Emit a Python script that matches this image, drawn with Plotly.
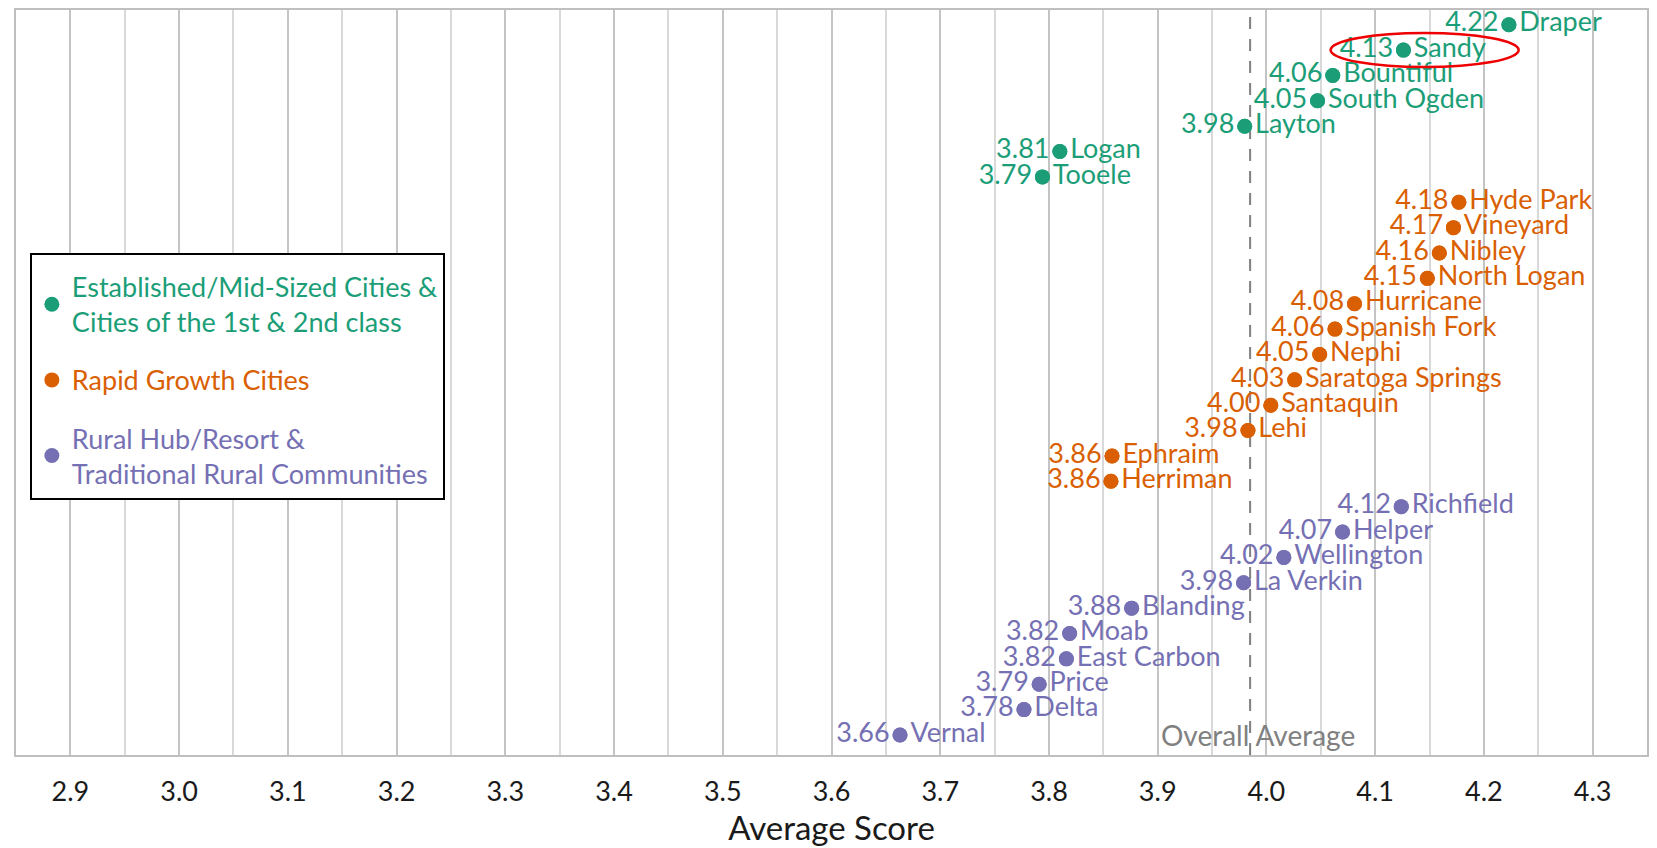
import plotly.graph_objects as go

# ---------------- data ----------------
group_names = [
    "Established/Mid-Sized Cities &|Cities of the 1st & 2nd class",
    "Rapid Growth Cities",
    "Rural Hub/Resort &|Traditional Rural Communities",
]
group_colors = ["#1b9e77", "#d95f02", "#7570b3"]

est_cities = ["Draper", "Sandy", "Bountiful", "South Ogden", "Layton", "Logan", "Tooele"]
est_scores = [4.223, 4.126, 4.061, 4.047, 3.980, 3.810, 3.794]

rapid_cities = ["Hyde Park", "Vineyard", "Nibley", "North Logan", "Hurricane", "Spanish Fork",
                "Nephi", "Saratoga Springs", "Santaquin", "Lehi", "Ephraim", "Herriman"]
rapid_scores = [4.177, 4.172, 4.159, 4.148, 4.081, 4.063, 4.049, 4.026, 4.004, 3.983, 3.858, 3.857]

rural_cities = ["Richfield", "Helper", "Wellington", "La Verkin", "Blanding", "Moab",
                "East Carbon", "Price", "Delta", "Vernal"]
rural_scores = [4.124, 4.070, 4.016, 3.979, 3.876, 3.819, 3.816, 3.791, 3.777, 3.663]

overall_average = 3.985
highlight_city = "Sandy"

x_ticks = [2.9, 3.0, 3.1, 3.2, 3.3, 3.4, 3.5, 3.6, 3.7, 3.8, 3.9, 4.0, 4.1, 4.2, 4.3]
x_tick_labels = ["2.9", "3.0", "3.1", "3.2", "3.3", "3.4", "3.5", "3.6", "3.7", "3.8",
                 "3.9", "4.0", "4.1", "4.2", "4.3"]

# ---------------- figure ----------------
FONT = "Lato"
FS = 27
all_cities = est_cities + rapid_cities + rural_cities
all_scores = est_scores + rapid_scores + rural_scores

fig = go.Figure()
series = [(est_cities, est_scores), (rapid_cities, rapid_scores), (rural_cities, rural_scores)]
for gi, ((cities, scores), gname, col) in enumerate(zip(series, group_names, group_colors)):
    marker = dict(size=15, color=col)
    fig.add_trace(go.Scatter(
        x=scores, y=cities, mode="markers+text", text=cities, textposition="middle right",
        marker=marker, textfont=dict(family=FONT, size=FS, color=col),
        showlegend=False, legendgroup=f"g{gi}", hoverinfo="skip", cliponaxis=False))
    fig.add_trace(go.Scatter(
        x=scores, y=cities, mode="markers+text", texttemplate="%{x:.2f}", textposition="middle left",
        marker=marker, textfont=dict(family=FONT, size=FS, color=col),
        showlegend=False, legendgroup=f"g{gi}", cliponaxis=False))
    label = "<br>".join(f"<span style='color:{col}'>{ln}</span>" for ln in gname.split("|"))
    fig.add_trace(go.Scatter(
        x=[None], y=[None], mode="markers", marker=marker, name=label,
        legendgroup=f"g{gi}", showlegend=True))

# overall average dashed line
fig.add_shape(type="line", xref="x", yref="paper", x0=overall_average, x1=overall_average,
              y0=0, y1=1, line=dict(color="#808080", width=2, dash="12px,10px"), layer="between")
fig.add_annotation(x=overall_average, y=all_cities[-1], xref="x", yref="y", text="Overall Average",
                   showarrow=False, xanchor="center", yanchor="middle", xshift=8,
                   font=dict(family=FONT, size=28, color="#808080"))

# highlight ellipse around Sandy
hv = all_scores[all_cities.index(highlight_city)]
hy = all_cities.index(highlight_city)
fig.add_shape(type="circle", xref="x", yref="y", x0=hv - 0.067, x1=hv + 0.106,
              y0=hy - 0.67, y1=hy + 0.67, line=dict(color="#ee0000", width=2.5), layer="above")

n = len(all_cities)
fig.update_layout(
    width=1657, height=848,
    margin=dict(l=16, r=8, t=8, b=93, pad=0),
    paper_bgcolor="white", plot_bgcolor="white",
    font=dict(family=FONT, size=FS, color="#1a1a1a"),
    showlegend=True,
    legend=dict(x=0.0085, y=0.674, xanchor="left", yanchor="top",
                bordercolor="black", borderwidth=2, bgcolor="white",
                font=dict(family=FONT, size=FS), tracegroupgap=20,
                itemsizing="trace",
                title=dict(text=" ", font=dict(size=6))),
    xaxis=dict(range=[2.85, 4.35], tickvals=x_ticks, ticktext=x_tick_labels,
               showgrid=True, gridcolor="#c4c4c4", gridwidth=1.5,
               minor=dict(dtick=0.05, tick0=2.85, showgrid=True, gridcolor="#d9d9d9", gridwidth=1.5),
               showline=True, linecolor="#bfbfbf", linewidth=2, mirror=True,
               ticks="", ticklabelstandoff=12, zeroline=False,
               tickfont=dict(family=FONT, size=FS, color="#1a1a1a"),
               title=dict(text="Average Score", standoff=4,
                          font=dict(family=FONT, size=33, color="#1a1a1a"))),
    yaxis=dict(categoryorder="array", categoryarray=all_cities,
               range=[n - 1 + 0.79, -0.58], showticklabels=False, showgrid=False,
               showline=True, linecolor="#bfbfbf", linewidth=2, mirror=True,
               ticks="", zeroline=False),
)

fig.write_html("out.html", config={"displayModeBar": False},
               post_script="document.body.style.margin='0';")
